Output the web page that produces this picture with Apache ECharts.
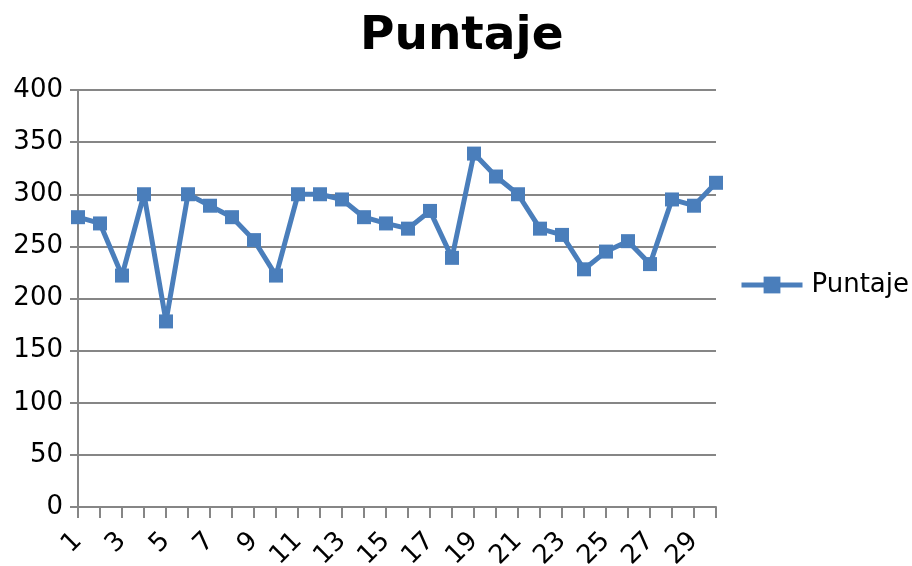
<!DOCTYPE html>
<html>
<head>
<meta charset="utf-8">
<script src="https://cdn.jsdelivr.net/npm/echarts@6/dist/echarts.min.js"></script>
<style>
html, body { margin: 0; padding: 0; background: #fff; }
#chart { width: 912px; height: 566px; }
</style>
</head>
<body>
<div id="chart"></div>
<script>
// datos
var dias = ['1', '2', '3', '4', '5', '6', '7', '8', '9', '10',
            '11', '12', '13', '14', '15', '16', '17', '18', '19', '20',
            '21', '22', '23', '24', '25', '26', '27', '28', '29', '30'];
var puntaje = [278, 272, 222, 300, 178, 300, 289, 278, 256, 222,
               300, 300, 295, 278, 272, 267, 284, 239, 339, 317,
               300, 267, 261, 228, 245, 255, 233, 295, 289, 311];
var ejeY = { min: 0, max: 400, interval: 50 };

var fuente = 'DejaVu Sans';
var myChart = echarts.init(document.getElementById('chart'));
myChart.setOption({
    animation: false,
    title: {
        text: 'Puntaje',
        left: 360,
        top: 13,
        padding: 0,
        textStyle: { fontFamily: fuente, fontSize: 47, fontWeight: 'bold', color: '#000' }
    },
    legend: {
        left: 734,
        top: 267,
        itemWidth: 61,
        itemHeight: 21,
        itemGap: 8,
        lineStyle: { width: 5 },
        textStyle: { fontFamily: fuente, fontSize: 26, color: '#000', padding: [0, 0, 0, 4] },
        data: ['Puntaje']
    },
    grid: { left: 78, right: 196, top: 90, bottom: 59, outerBoundsMode: 'none' },
    xAxis: {
        type: 'category',
        boundaryGap: false,
        data: dias,
        axisLine: { lineStyle: { color: '#868686', width: 2 } },
        axisTick: { show: true, length: 11, interval: 0, lineStyle: { color: '#868686', width: 2 } },
        axisLabel: {
            interval: 1,
            rotate: 45,
            margin: 30,
            fontFamily: fuente,
            fontSize: 26,
            color: '#000'
        },
        splitLine: { show: false }
    },
    yAxis: {
        type: 'value',
        min: ejeY.min,
        max: ejeY.max,
        interval: ejeY.interval,
        axisLine: { show: true, lineStyle: { color: '#868686', width: 2 } },
        axisTick: { show: true, length: 8, lineStyle: { color: '#868686', width: 2 } },
        axisLabel: { margin: 15, fontFamily: fuente, fontSize: 26, color: '#000' },
        splitLine: { lineStyle: { color: '#868686', width: 2 } }
    },
    series: [{
        name: 'Puntaje',
        type: 'line',
        data: puntaje,
        symbol: 'rect',
        symbolSize: 14,
        lineStyle: { color: '#4a7ebb', width: 5 },
        itemStyle: { color: '#4a7ebb' }
    }]
});
</script>
</body>
</html>
